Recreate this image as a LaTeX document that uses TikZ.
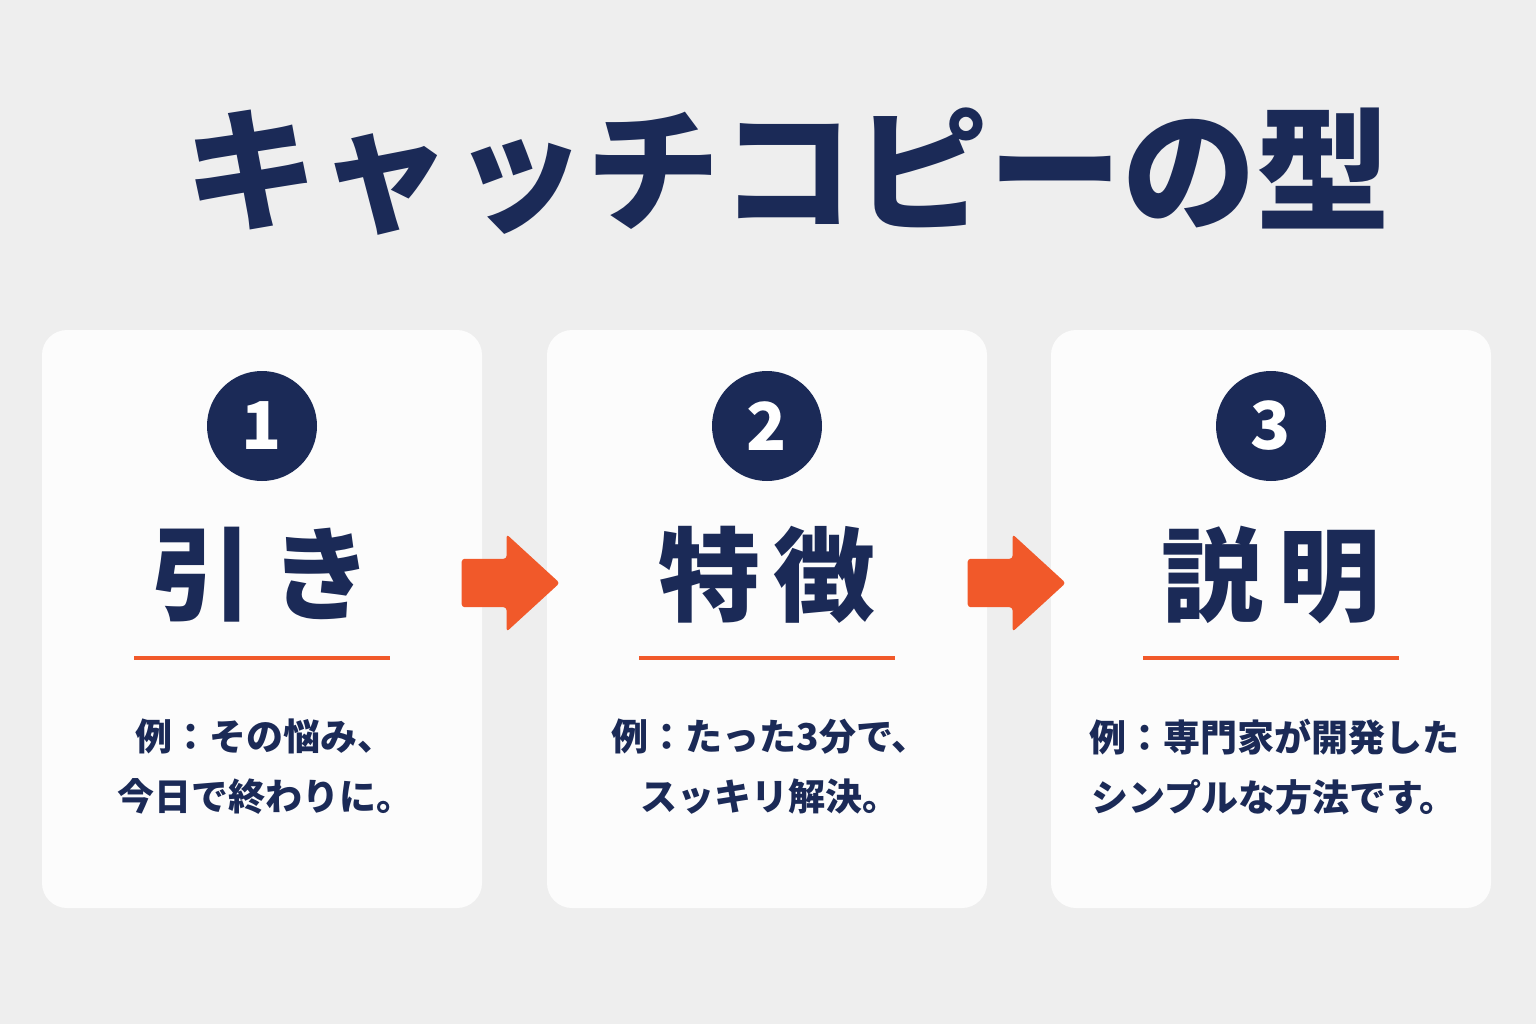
\documentclass[tikz,border=0pt]{standalone}
\usepackage{fontspec}
\setmainfont{Noto Sans CJK JP}
\usetikzlibrary{shapes.arrows}

\definecolor{navy}{HTML}{1B2A57}
\definecolor{accent}{HTML}{F1592A}
\definecolor{paper}{HTML}{EEEEEE}
\definecolor{cardwhite}{HTML}{FCFCFC}

\begin{document}
\begin{tikzpicture}[x=1pt, y=-1pt,
    card/.style={fill=cardwhite, rounded corners=25pt, minimum width=440pt, minimum height=578pt},
    numdot/.style={circle, fill=navy, text=white, minimum size=110pt, inner sep=0pt,
        font=\fontsize{66}{66}\selectfont\bfseries},
    headword/.style={text=navy, font=\fontsize{102}{102}\selectfont\bfseries},
    example/.style={text=navy, align=center, font=\fontsize{37}{60}\selectfont\bfseries},
    underline/.style={draw=accent, line width=3.5pt},
    flowarrow/.style={single arrow, fill=accent, inner xsep=0pt, inner ysep=24pt,
        minimum height=98pt, single arrow head extend=24.5pt,
        single arrow tip angle=85, rounded corners=3pt, anchor=tip}]
    % background
    \fill[paper] (0,0) rectangle (1536,1024);
    % title
    \node[text=navy, font=\fontsize{134}{134}\selectfont\bfseries] (title) at (787,172) {キャッチコピーの型};
    % the three cards
    \foreach \i/\cx/\word/\ex in {
        1/262/{引\kern17pt き}/{例：その悩み、\\今日で終わりに。},
        2/767/{特\kern14pt 徴}/{例：たった3分で、\\スッキリ解決。},
        3/1271/{説\kern16pt 明}/{例：専門家が開発した\\シンプルな方法です。}} {
        \node[card] (card\i) at (\cx,619) {};
        \node[numdot] (num\i) at (\cx,426) {\i};
        \node[headword] (head\i) at (\cx,575) {\word};
        \draw[underline] (\cx-128,658) -- (\cx+128,658);
        \node[example] (ex\i) at (\cx+3,767) {\ex};
    }
    % arrows between the cards
    \node[flowarrow] (arr12) at (560,583) {};
    \node[flowarrow] (arr23) at (1066,583) {};
\end{tikzpicture}
\end{document}
